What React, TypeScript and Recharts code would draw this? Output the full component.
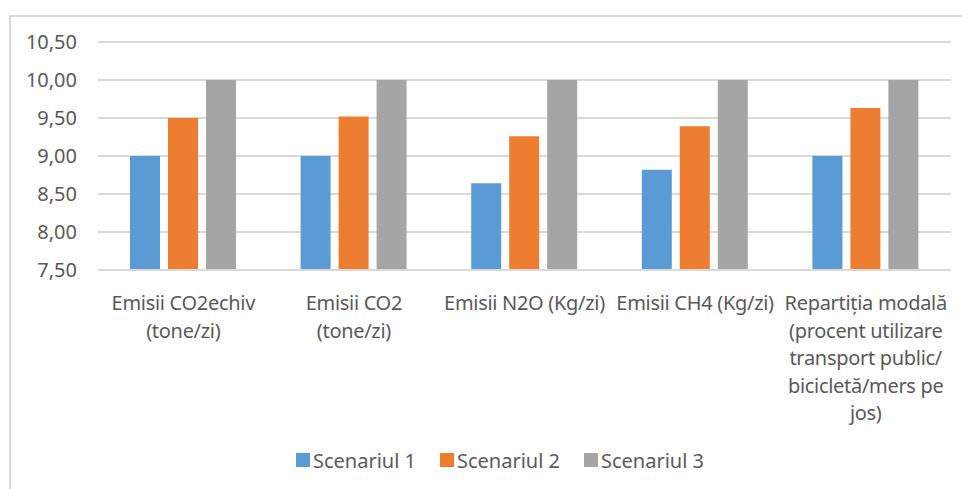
import { BarChart, Bar, XAxis, YAxis, CartesianGrid } from "recharts";

const categories = [
  "Emisii CO2echiv (tone/zi)",
  "Emisii CO2 (tone/zi)",
  "Emisii N2O (Kg/zi)",
  "Emisii CH4 (Kg/zi)",
  "Repartiția modală (procent utilizare transport public/ bicicletă/mers pe jos)",
];

// how Excel wrapped each category label
const categoryLines = [
  ["Emisii CO2echiv", "(tone/zi)"],
  ["Emisii CO2", "(tone/zi)"],
  ["Emisii N2O (Kg/zi)"],
  ["Emisii CH4 (Kg/zi)"],
  ["Repartiția modală", "(procent utilizare", "transport public/", "bicicletă/mers pe", "jos)"],
];

const scenariul1 = [9.0, 9.0, 8.64, 8.82, 9.0];
const scenariul2 = [9.5, 9.52, 9.26, 9.39, 9.63];
const scenariul3 = [10.0, 10.0, 10.0, 10.0, 10.0];

const yTicks = [7.5, 8.0, 8.5, 9.0, 9.5, 10.0, 10.5];

const series = [
  { key: "s1", name: "Scenariul 1", color: "#5b9bd5" },
  { key: "s2", name: "Scenariul 2", color: "#ed7d31" },
  { key: "s3", name: "Scenariul 3", color: "#a5a5a5" },
];

const data = categories.map((c, i) => ({
  name: c,
  s1: scenariul1[i],
  s2: scenariul2[i],
  s3: scenariul3[i],
}));

const FONT = "'Noto Sans', sans-serif";
const FS = 20;
const TEXT = "#595959";

const fmt = (v: number) => v.toFixed(2).replace(".", ",");

const CategoryTick = ({ x, y, payload }: any) => {
  const idx = categories.indexOf(payload.value);
  const lines = categoryLines[idx] || [payload.value];
  return (
    <text
      x={x}
      y={y + 30}
      textAnchor="middle"
      dominantBaseline="central"
      fill={TEXT}
      fontSize={FS}
      fontFamily={FONT}
      letterSpacing={-0.3}
    >
      {lines.map((l: string, i: number) => (
        <tspan key={i} x={x} dy={i === 0 ? 0 : 27.5}>
          {l}
        </tspan>
      ))}
    </text>
  );
};

export default function App() {
  return (
    <div
      style={{
        position: "absolute",
        left: 0,
        top: 0,
        width: 962,
        height: 489,
        background: "#fff",
        overflow: "hidden",
      }}
    >
      <div
        style={{
          position: "absolute",
          left: 9,
          top: 15,
          width: 980,
          height: 500,
          borderLeft: "2px solid #d9d9d9",
          borderTop: "2px solid #d9d9d9",
        }}
      />
      <div style={{ position: "absolute", left: 0, top: 0 }}>
        <BarChart
          width={962}
          height={489}
          data={data}
          margin={{ top: 42, right: 11, bottom: 0, left: 0 }}
          barCategoryGap={32}
          barGap={8}
        >
          <CartesianGrid vertical={false} stroke="#d9d9d9" strokeWidth={2} />
          <XAxis
            dataKey="name"
            height={219}
            axisLine={{ stroke: "#d9d9d9", strokeWidth: 2 }}
            tickLine={false}
            tickSize={0}
            tick={<CategoryTick />}
            interval={0}
          />
          <YAxis
            width={98}
            domain={[7.5, 10.5]}
            ticks={yTicks}
            tickFormatter={fmt}
            axisLine={false}
            tickLine={false}
            tickSize={0}
            tickMargin={21}
            tick={{ fill: TEXT, fontSize: FS, fontFamily: FONT }}
          />
          {series.map((s) => (
            <Bar key={s.key} dataKey={s.key} name={s.name} fill={s.color} isAnimationActive={false} />
          ))}
        </BarChart>
      </div>
      <div
        style={{
          position: "absolute",
          left: 296,
          top: 447,
          height: 26,
          display: "flex",
          alignItems: "center",
          fontFamily: FONT,
          fontSize: FS,
          color: TEXT,
        }}
      >
        {series.map((s) => (
          <div key={s.key} style={{ width: 144, display: "flex", alignItems: "center" }}>
            <span style={{ width: 14, height: 14, background: s.color, marginRight: 3 }} />
            <span>{s.name}</span>
          </div>
        ))}
      </div>
    </div>
  );
}
